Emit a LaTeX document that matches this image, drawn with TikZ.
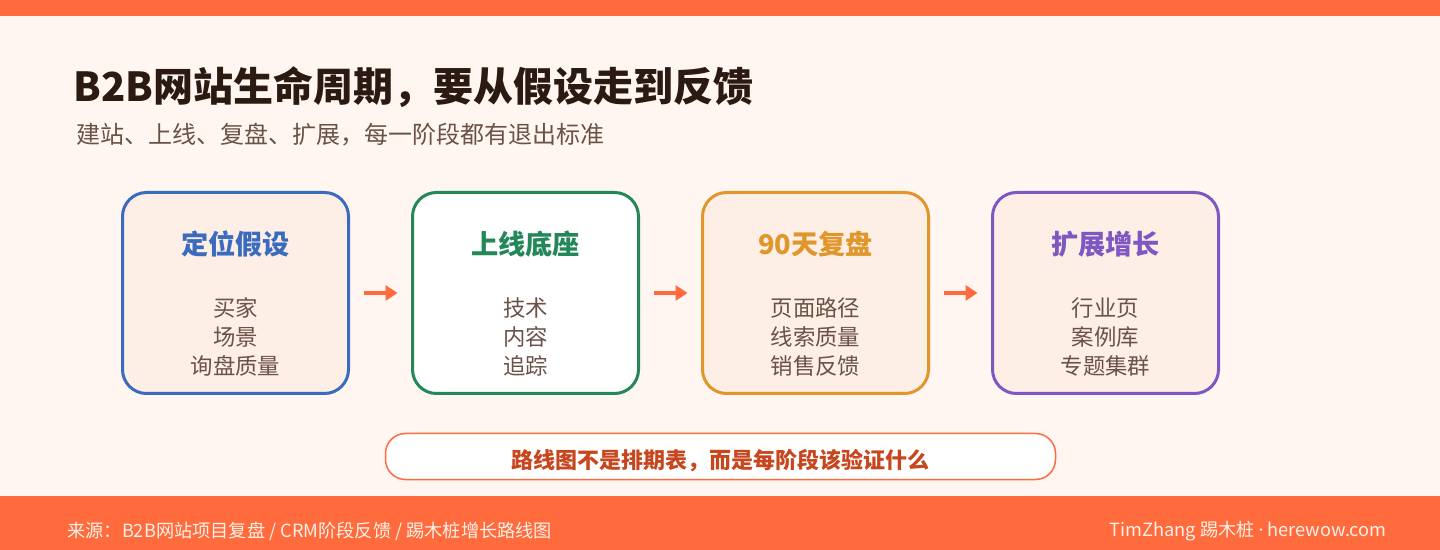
\documentclass[tikz,border=0pt]{standalone}
\usepackage{fontspec}
\setmainfont{Noto Sans CJK SC}
\newfontfamily\latinfont{Noto Sans}
\usetikzlibrary{arrows.meta}

\definecolor{accent}{HTML}{FF6B3D}
\definecolor{paper}{HTML}{FFF6F2}
\definecolor{cardfill}{HTML}{FDEEE6}
\definecolor{ink}{HTML}{2B1A12}
\definecolor{muted}{HTML}{6B5246}
\definecolor{stageblue}{HTML}{3A6BBF}
\definecolor{stagegreen}{HTML}{23875A}
\definecolor{stageorange}{HTML}{E0962A}
\definecolor{stagepurple}{HTML}{7E57C2}
\definecolor{notered}{HTML}{C8461E}
\definecolor{footink}{HTML}{FFF1E8}

\tikzset{
    page title/.style={
      text=ink,
      font=\bfseries\fontsize{20}{22}\selectfont,
      inner sep=0pt
    },
    page subtitle/.style={
      text=muted,
      font=\fontsize{12}{14}\selectfont,
      inner sep=0pt
    },
    stage box/.style={
      draw=#1,
      fill=cardfill,
      line width=1.5pt,
      rounded corners=12pt,
      minimum width=113pt,
      minimum height=100.5pt,
      inner sep=0pt
    },
    stage title/.style={
      text=#1,
      font=\bfseries\fontsize{13.6}{15}\selectfont
    },
    stage items/.style={
      text=muted,
      font=\fontsize{11.2}{14.5}\selectfont,
      align=center
    },
    flow arrow/.style={
      draw=accent,
      line width=2pt,
      -{Triangle[length=6pt,width=7.5pt]},
      shorten <=6.75pt,
      shorten >=6.75pt
    },
    note box/.style={
      draw=accent,
      fill=white,
      line width=0.75pt,
      rounded corners=10pt,
      minimum width=335pt,
      minimum height=23pt,
      text height=13pt,
      text depth=0.6pt,
      text=notered,
      font=\bfseries\fontsize{11}{13}\selectfont
    },
    foot text/.style={
      text=footink,
      font=\fontsize{9.1}{10}\selectfont,
      inner sep=0pt
    }
  }

\begin{document}
\begin{tikzpicture}[x=0.5pt,y=-0.5pt]
      \useasboundingbox (0,0) rectangle (1440,550);

      % 背景
      \fill[paper] (0,0) rectangle (1440,550);
      \fill[accent] (0,0) rectangle (1440,16);
      \fill[accent] (0,496) rectangle (1440,550);

      % 标题
      \node[page title, anchor=west] (title) at (73,87) {B2B网站生命周期，要从假设走到反馈};
      \node[page subtitle, anchor=west] (subtitle) at (76,135) {建站、上线、复盘、扩展，每一阶段都有退出标准};

      % 阶段
      \node[stage box=stageblue] (s1) at (235.5,293) {};
      \node[stage box=stagegreen, fill=white] (s2) at (525.5,293) {};
      \node[stage box=stageorange] (s3) at (815.5,293) {};
      \node[stage box=stagepurple] (s4) at (1105.5,293) {};

      \node[stage title=stageblue] (t1) at (235.5,244) {定位假设};
      \node[stage title=stagegreen] (t2) at (525.5,244) {上线底座};
      \node[stage title=stageorange] (t3) at (815.5,244) {90天复盘};
      \node[stage title=stagepurple] (t4) at (1105.5,244) {扩展增长};

      \node[stage items] (d1) at (235.5,337) {买家\\场景\\询盘质量};
      \node[stage items] (d2) at (525.5,337) {技术\\内容\\追踪};
      \node[stage items] (d3) at (815.5,337) {页面路径\\线索质量\\销售反馈};
      \node[stage items] (d4) at (1105.5,337) {行业页\\案例库\\专题集群};

      % 箭头
      \draw[flow arrow] (s1.east) -- (s2.west);
      \draw[flow arrow] (s2.east) -- (s3.west);
      \draw[flow arrow] (s3.east) -- (s4.west);

      % 提示
      \node[note box] (note) at (720.5,456.5) {路线图不是排期表，而是每阶段该验证什么};

      % 页脚
      \node[foot text, anchor=west] (source) at (67,531) {来源：B2B网站项目复盘 / CRM阶段反馈 / 踢木桩增长路线图};
      \node[foot text, anchor=east] (brand) at (1387,531) {TimZhang 踢木桩 {\latinfont ·} herewow.com};
    \end{tikzpicture}
\end{document}
